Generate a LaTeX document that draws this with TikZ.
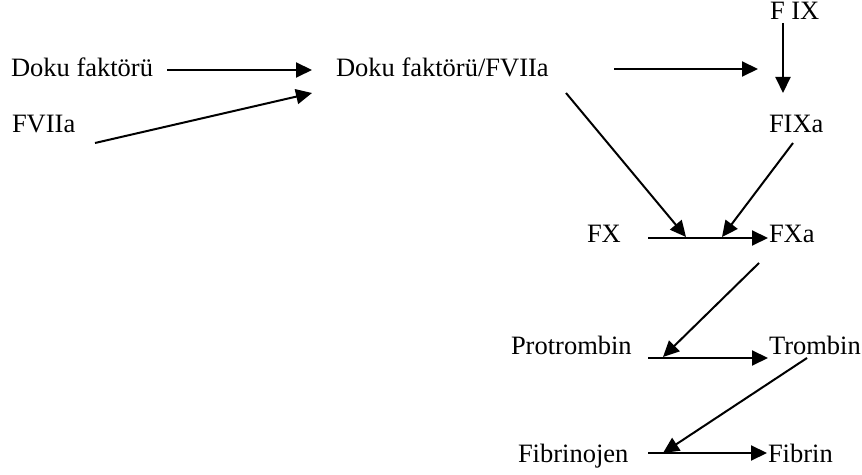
\documentclass[tikz,border=0pt]{standalone}
\usepackage{fontspec}
\setmainfont{Liberation Serif}
\usetikzlibrary{arrows.meta}
\begin{document}
\begin{tikzpicture}[x=0.5pt,y=-0.5pt,line join=round,line width=1pt,>={Triangle[length=8pt,width=7.5pt]},
	every node/.style={anchor=base west,inner sep=0pt,font=\fontsize{13.25}{16}\selectfont}]
	\useasboundingbox (0,0) rectangle (862,475);
	\node (dokuf) at (10,77) {Doku faktörü};
	\node (f7a) at (11,133) {FVIIa};
	\node (dfv) at (335,77) {Doku faktörü/FVIIa};
	\node (f9) at (769,20) {F IX};
	\node (f9a) at (768,133) {FIXa};
	\node (fx) at (586,243) {FX};
	\node (fxa) at (768,243) {FXa};
	\node (protr) at (510,355) {Protrombin};
	\node (tromb) at (768,355) {Trombin};
	\node (fibjen) at (517,463) {Fibrinojen};
	\node (fibr) at (767,463) {Fibrin};
	\coordinate (dokuf out) at (167,70);
	\coordinate (dfv in1) at (312,70);
	\coordinate (f7a out) at (95,143);
	\coordinate (dfv in2) at (312,93);
	\coordinate (dfv out1) at (614,69);
	\coordinate (f9 in) at (758,69);
	\coordinate (f9 out) at (783,23);
	\coordinate (f9a in) at (783,93);
	\coordinate (dfv out2) at (566,93);
	\coordinate (fx mid1) at (686,237);
	\coordinate (f9a out) at (793,143);
	\coordinate (fx mid2) at (722,237);
	\coordinate (fx out) at (648,238);
	\coordinate (fxa in) at (768,238);
	\coordinate (fxa out) at (759,263);
	\coordinate (protr mid) at (663,357);
	\coordinate (protr out) at (648,358);
	\coordinate (tromb in) at (768,358);
	\coordinate (tromb out) at (807,358);
	\coordinate (fibjen mid) at (663,453);
	\coordinate (fibjen out) at (648,453);
	\coordinate (fibr in) at (767,453);
	\draw[->] (dokuf out) -- (dfv in1);
	\draw[->] (f7a out) -- (dfv in2);
	\draw[->] (dfv out1) -- (f9 in);
	\draw[->] (f9 out) -- (f9a in);
	\draw[->] (dfv out2) -- (fx mid1);
	\draw[->] (f9a out) -- (fx mid2);
	\draw[->] (fx out) -- (fxa in);
	\draw[->] (fxa out) -- (protr mid);
	\draw[->] (protr out) -- (tromb in);
	\draw[->] (tromb out) -- (fibjen mid);
	\draw[->] (fibjen out) -- (fibr in);
\end{tikzpicture}
\end{document}
